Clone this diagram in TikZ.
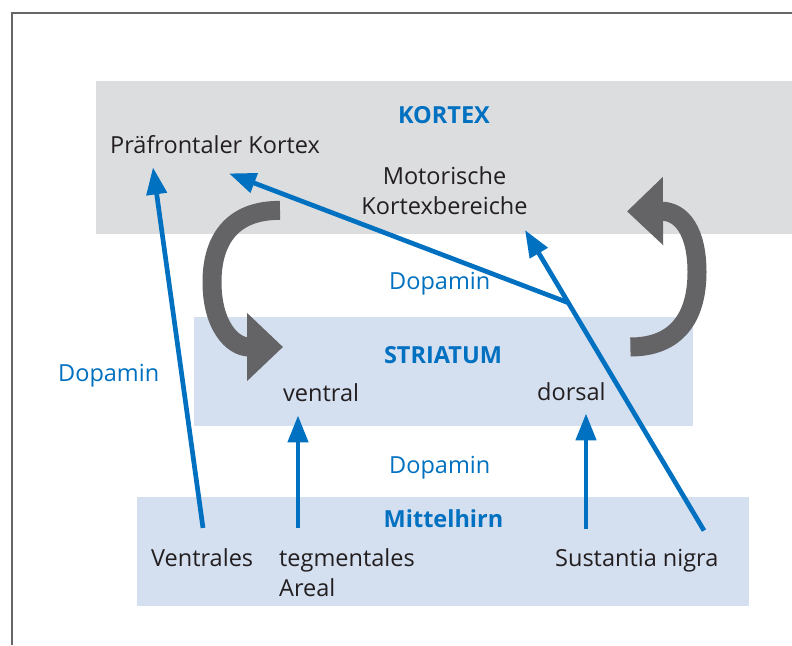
\documentclass[tikz,border=0pt]{standalone}
\usepackage{fontspec}
\setmainfont{Open Sans}
\usetikzlibrary{arrows.meta}
\definecolor{dopablue}{HTML}{0070C0}
\definecolor{kortexgray}{HTML}{DCDDDF}
\definecolor{bandblue}{HTML}{D4DFF0}
\definecolor{loopgray}{HTML}{646466}
\definecolor{framegray}{HTML}{666666}
\definecolor{textblack}{HTML}{231F20}
\newcommand\diagsize{\fontsize{23.5}{30}\selectfont}

\begin{document}
\begin{tikzpicture}[x=1pt,y=-1pt,font=\diagsize,
  band/.style={inner sep=0pt,anchor=north west},
  txt/.style={inner sep=0pt,anchor=base west,text=textblack},
  headtxt/.style={inner sep=0pt,anchor=base,text=dopablue,font=\diagsize\bfseries},
  dopa/.style={inner sep=0pt,anchor=base west,text=dopablue},
  conn/.style={draw=dopablue,line width=4.7pt,-{Triangle[length=27pt,width=20pt]}},
  cyclearrow/.style={draw=loopgray,line width=19pt,-{Triangle[length=36pt,width=66pt]}}]
\useasboundingbox (0,0) rectangle (792,645);
\draw[framegray,line width=1.8pt] (12,645) -- (12,13) -- (792,13);
\node[band,fill=kortexgray,minimum width=696pt,minimum height=153pt] (kortex) at (96,81) {};
\node[band,fill=bandblue,minimum width=499pt,minimum height=109pt] (striatum) at (194,317) {};
\node[band,fill=bandblue,minimum width=612pt,minimum height=109pt] (mittelhirn) at (137,497) {};
\node[headtxt] (kortexT) at (444,123) {KORTEX};
\node[headtxt] (striatumT) at (443,363) {STRIATUM};
\node[headtxt] (mittelT) at (443.5,527) {Mittelhirn};
\node[txt] (praef) at (110,153) {Präfrontaler Kortex};
\node[txt,align=center,anchor=south] (motor) at (444.5,215) {Motorische\\Kortexbereiche};
\node[txt] (ventral) at (283,401) {ventral};
\node[txt] (dorsal) at (537,400) {dorsal};
\node[txt] (vent) at (151,566) {Ventrales};
\node[txt,align=left,anchor=north west] (teg) at (279,548) {tegmentales\\Areal};
\node[txt] (sn) at (555,566) {Sustantia nigra};
\node[dopa] (dopTop) at (389,289) {Dopamin};
\node[dopa] (dopLeft) at (58,381) {Dopamin};
\node[dopa] (dopMid) at (389,473) {Dopamin};
\draw[cyclearrow] ([shift={(184,-24)}]kortex.south west) .. controls (232,210) and (212,240) .. (212,282) .. controls (212,325) and (232,347) .. ([shift={(89,30)}]striatum.north west);
\draw[cyclearrow] ([shift={(-63,30)}]striatum.north east) .. controls (676,347) and (697,318) .. (697,272) .. controls (697,232) and (682,211) .. ([shift={(531,-23)}]kortex.south west);
\draw[conn] ([shift={(52,-20)}]vent.north west) -- ([shift={(43,14)}]praef.south west);
\draw[conn] ([shift={(19,-20)}]teg.north west) -- ([shift={(15,14)}]ventral.south west);
\draw[conn] ([shift={(31,-20)}]sn.north west) -- ([shift={(49,13)}]dorsal.south west);
\draw[conn] ([shift={(149,-18)}]sn.north west) -- coordinate[pos=0.758] (junc) ([shift={(80.5,15)}]motor.south);
\draw[conn] (junc) -- ([shift={(119,20)}]praef.south west);
\end{tikzpicture}
\end{document}
